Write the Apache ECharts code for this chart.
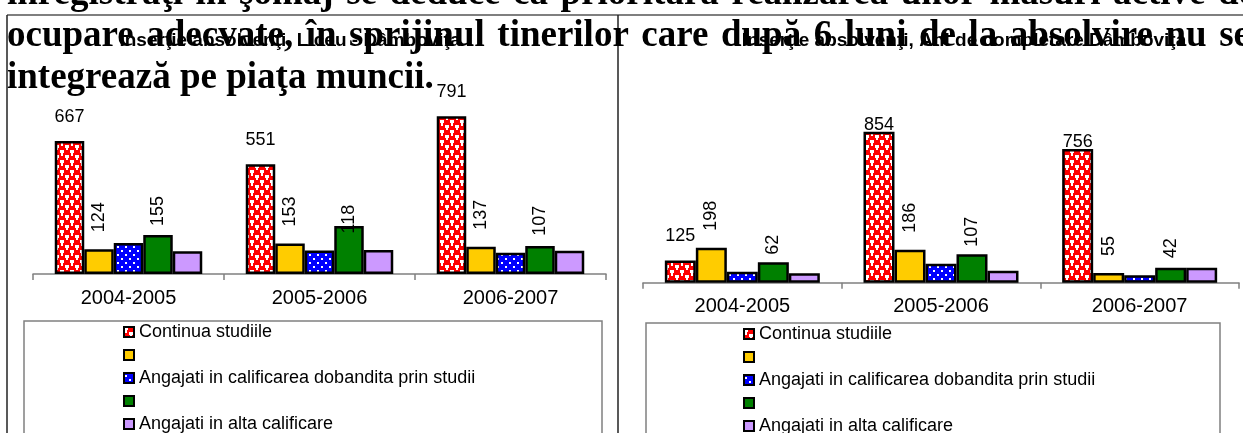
<!DOCTYPE html>
<html>
<head>
<meta charset="utf-8">
<script src="https://cdn.jsdelivr.net/npm/echarts@6/dist/echarts.min.js"></script>
<style>
html, body { margin: 0; padding: 0; background: #fff; }
#chart { width: 1243px; height: 433px; }
</style>
</head>
<body>
<div id="chart"></div>
<script>
const categories = ['2004-2005', '2005-2006', '2006-2007'];
const seriesNames = ['Continua studiile', 's2', 'Angajati in calificarea dobandita prin studii', 's4', 'Angajati in alta calificare'];
const legendText = ['Continua studiile', '', 'Angajati in calificarea dobandita prin studii', '', 'Angajati in alta calificare'];

// Liceu - Dambovita
const liceuRed = [667, 551, 791];
const liceuOrange = [124, 153, 137];
const liceuBlue = [155, 118, 107];
const liceuGreen = [196, 241, 140];
const liceuPurple = [114, 120, 117];

// Ani de completare - Dambovita
const aniRed = [125, 854, 756];
const aniOrange = [198, 186, 55];
const aniBlue = [62, 107, 42];
const aniGreen = [115, 161, 85];
const aniPurple = [53, 68, 85];

const titleLiceu = 'Inserţie absolvenţi, Liceu - Dâmboviţa';
const titleAni = 'Inserţie absolvenţi, Ani de completare Dâmboviţa';
const textLines = [
  'înregistraţi în şomaj se deduce ca prioritară realizarea unor măsuri active de',
  'ocupare adecvate, în sprijinul tinerilor care după 6 luni de la absolvire nu se',
  'integrează pe piaţa muncii.'
];

const sans = '"Liberation Sans", Arial, sans-serif';
const serifFont = 'bold 37px "Liberation Serif", "Times New Roman", serif';

// texturi pentru bare
function redTile() {
  const c = document.createElement('canvas');
  c.width = 10; c.height = 10;
  const g = c.getContext('2d');
  g.fillStyle = '#ff0000';
  g.fillRect(0, 0, 10, 10);
  g.fillStyle = '#ffffff';
  g.fillRect(0, 0, 4, 3);
  g.fillRect(1, 3, 2, 3);
  g.fillRect(5, 5, 4, 3);
  g.fillRect(6, 8, 2, 2);
  return c;
}
function blueTile() {
  const c = document.createElement('canvas');
  c.width = 8; c.height = 8;
  const g = c.getContext('2d');
  g.fillStyle = '#0000ff';
  g.fillRect(0, 0, 8, 8);
  g.fillStyle = '#ffffff';
  g.fillRect(1, 2, 2, 2);
  g.fillRect(5, 6, 2, 2);
  return c;
}

const colors = [
  { image: redTile(), repeat: 'repeat' },
  '#ffcc00',
  { image: blueTile(), repeat: 'repeat' },
  '#008000',
  '#cc99ff'
];

function makeSeries(values, idx, axisIdx, barW, redGap) {
  const s = {
    name: seriesNames[idx],
    type: 'bar',
    xAxisIndex: axisIdx,
    yAxisIndex: axisIdx,
    barWidth: barW,
    barGap: '0%',
    itemStyle: { color: colors[idx], borderColor: '#000', borderWidth: 2.5 },
    label: { show: false },
    data: values.slice()
  };
  const lbl = { show: true, color: '#000', fontSize: 18, fontFamily: sans };
  if (idx === 0) {
    s.label = Object.assign({}, lbl, { position: 'top', distance: 15 });
    if (redGap) {
      s.data = values.map((v, i) => ({ value: v, label: { distance: redGap[i] } }));
    }
  } else if (idx === 1 || idx === 2) {
    s.label = Object.assign({}, lbl, {
      position: 'top', rotate: 90, align: 'left', verticalAlign: 'middle', distance: 17
    });
    // eticheta seriei albastre apare deasupra barei urmatoare
    if (idx === 2) s.label.offset = [0, barW];
  }
  return s;
}

const liceu = [liceuRed, liceuOrange, liceuBlue, liceuGreen, liceuPurple];
const ani = [aniRed, aniOrange, aniBlue, aniGreen, aniPurple];
const series = [];
liceu.forEach((v, i) => series.push(makeSeries(v, i, 0, 29.5)));
ani.forEach((v, i) => series.push(makeSeries(v, i, 1, 31, i === 0 ? [16, -2, -2] : null)));

function xAxisCfg(gridIndex) {
  return {
    type: 'category',
    gridIndex: gridIndex,
    data: categories,
    axisLine: { lineStyle: { color: '#808080', width: 1.5 } },
    axisTick: { show: true, length: 6, lineStyle: { color: '#808080', width: 1.5 } },
    axisLabel: { color: '#000', fontSize: 20, fontFamily: sans, margin: 14 }
  };
}

function legendCfg(left, top) {
  return {
    orient: 'vertical',
    left: left,
    top: top,
    height: 200,
    padding: 0,
    itemGap: 8,
    itemWidth: 10,
    itemHeight: 10,
    icon: 'rect',
    itemStyle: { borderColor: '#000', borderWidth: 2 },
    selectedMode: false,
    data: seriesNames,
    formatter: (name) => legendText[seriesNames.indexOf(name)],
    textStyle: { color: '#000', fontSize: 18, lineHeight: 18, fontFamily: sans }
  };
}

const graphic = [
  { type: 'line', shape: { x1: 7, y1: 15, x2: 1243, y2: 15 }, style: { stroke: '#555', lineWidth: 1.5 } },
  { type: 'line', shape: { x1: 7, y1: 15, x2: 7, y2: 433 }, style: { stroke: '#222', lineWidth: 1.5 } },
  { type: 'line', shape: { x1: 618, y1: 15, x2: 618, y2: 433 }, style: { stroke: '#222', lineWidth: 1.5 } },
  { type: 'rect', shape: { x: 24, y: 321, width: 578, height: 200 }, style: { fill: 'none', stroke: '#808080', lineWidth: 1.5 } },
  { type: 'rect', shape: { x: 646, y: 323, width: 574, height: 200 }, style: { fill: 'none', stroke: '#808080', lineWidth: 1.5 } },
  { type: 'text', x: 290, y: 41, z: 10, style: { text: titleLiceu, font: 'bold 19px ' + sans, fill: '#000', textAlign: 'center', textVerticalAlign: 'middle' } },
  { type: 'text', x: 964, y: 41, z: 10, style: { text: titleAni, font: 'bold 19px ' + sans, fill: '#000', textAlign: 'center', textVerticalAlign: 'middle' } }
];

// paragraf aliniat stanga-dreapta (justify), ultimul rand normal
const measure = document.createElement('canvas').getContext('2d');
measure.font = serifFont;
function addLine(text, y, xEnd) {
  const words = text.split(' ');
  const widths = words.map((w) => measure.measureText(w).width);
  const total = widths.reduce((a, b) => a + b, 0);
  const gap = xEnd ? (xEnd - 7 - total) / (words.length - 1) : measure.measureText(' ').width;
  let x = 7;
  words.forEach((w, i) => {
    graphic.push({
      type: 'text', x: x, y: y, z: 11,
      style: { text: w, font: serifFont, fill: '#000', textAlign: 'left', textVerticalAlign: 'middle' }
    });
    x += widths[i] + gap;
  });
}
addLine(textLines[0], -6, 1255);
addLine(textLines[1], 36, 1250);
addLine(textLines[2], 78, null);

const myChart = echarts.init(document.getElementById('chart'));
myChart.setOption({
  backgroundColor: '#fff',
  animation: false,
  grid: [
    { left: 33, top: 114.5, width: 573, height: 159.5, outerBoundsMode: 'none' },
    { left: 643, top: 123.6, width: 596, height: 159.1, outerBoundsMode: 'none' }
  ],
  xAxis: [xAxisCfg(0), xAxisCfg(1)],
  yAxis: [
    { type: 'value', gridIndex: 0, min: 0, max: 800, show: false, splitLine: { show: false } },
    { type: 'value', gridIndex: 1, min: 0, max: 900, show: false, splitLine: { show: false } }
  ],
  legend: [legendCfg(123, 323), legendCfg(743, 325)],
  graphic: graphic,
  series: series
});
</script>
</body>
</html>
